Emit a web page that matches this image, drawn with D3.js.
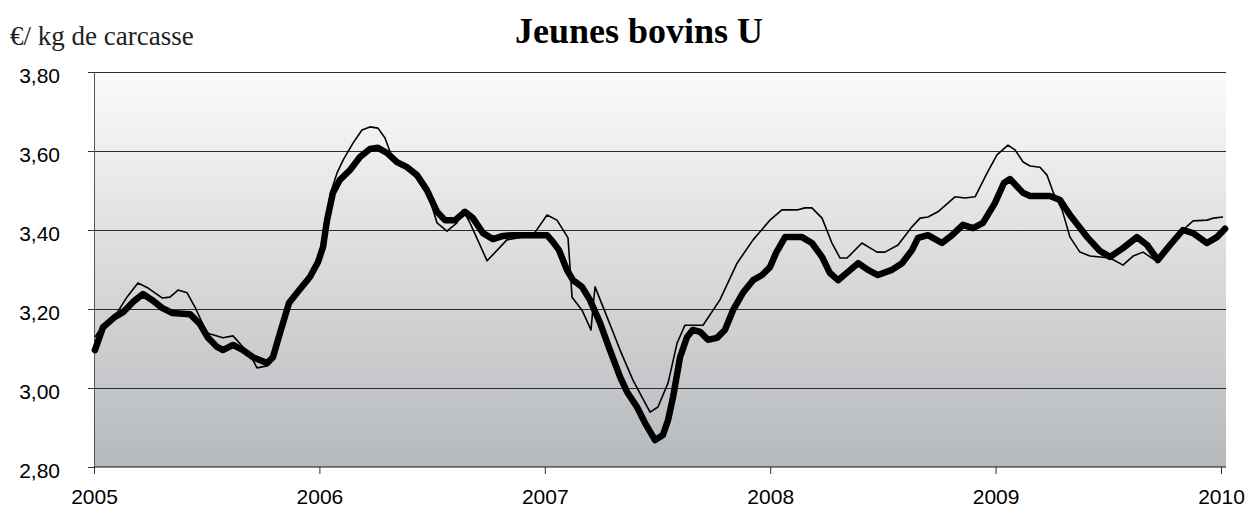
<!DOCTYPE html>
<html>
<head>
<meta charset="utf-8">
<script src="https://cdn.jsdelivr.net/npm/d3@7"></script>
<style>
  body { margin: 0; background: #fff; }
  .grid line { stroke: #2b2b2b; stroke-width: 1; shape-rendering: crispEdges; }
</style>
</head>
<body>
<div id="chart"></div>
<script>
// years (decimal) and prices in euro/kg
const thickYears = [2005.004, 2005.040, 2005.093, 2005.129, 2005.173, 2005.217, 2005.257, 2005.302, 2005.346, 2005.426,
  2005.470, 2005.506, 2005.546, 2005.572, 2005.617, 2005.661, 2005.705, 2005.768, 2005.794, 2005.825,
  2005.865, 2005.901, 2005.958, 2005.994, 2006.016, 2006.034, 2006.060, 2006.091, 2006.136, 2006.180,
  2006.224, 2006.260, 2006.300, 2006.344, 2006.389, 2006.433, 2006.477, 2006.522, 2006.557, 2006.602,
  2006.646, 2006.681, 2006.726, 2006.770, 2006.815, 2006.859, 2007.010, 2007.036, 2007.063, 2007.098,
  2007.125, 2007.165, 2007.200, 2007.245, 2007.289, 2007.334, 2007.365, 2007.409, 2007.445, 2007.489,
  2007.524, 2007.547, 2007.569, 2007.600, 2007.631, 2007.657, 2007.689, 2007.724, 2007.764, 2007.799,
  2007.835, 2007.879, 2007.924, 2007.964, 2007.999, 2008.026, 2008.066, 2008.141, 2008.185, 2008.230,
  2008.265, 2008.301, 2008.345, 2008.390, 2008.434, 2008.478, 2008.540, 2008.585, 2008.629, 2008.656,
  2008.700, 2008.762, 2008.807, 2008.855, 2008.900, 2008.944, 2008.997, 2009.037, 2009.064, 2009.122,
  2009.153, 2009.241, 2009.286, 2009.330, 2009.406, 2009.463, 2009.508, 2009.565, 2009.627, 2009.672,
  2009.720, 2009.774, 2009.831, 2009.876, 2009.938, 2009.982, 2010.018];
const thickValues = [3.096, 3.154, 3.180, 3.192, 3.218, 3.238, 3.223, 3.203, 3.190, 3.187,
  3.162, 3.127, 3.104, 3.096, 3.109, 3.096, 3.078, 3.063, 3.078, 3.139,
  3.215, 3.241, 3.281, 3.319, 3.357, 3.425, 3.494, 3.527, 3.552, 3.585,
  3.605, 3.608, 3.595, 3.572, 3.559, 3.539, 3.501, 3.446, 3.425, 3.425,
  3.446, 3.430, 3.392, 3.377, 3.385, 3.387, 3.387, 3.370, 3.349, 3.299,
  3.273, 3.256, 3.223, 3.165, 3.096, 3.028, 2.990, 2.952, 2.911, 2.868,
  2.881, 2.919, 2.977, 3.078, 3.129, 3.147, 3.142, 3.122, 3.127, 3.147,
  3.197, 3.241, 3.273, 3.286, 3.306, 3.342, 3.382, 3.382, 3.367, 3.332,
  3.291, 3.273, 3.294, 3.316, 3.299, 3.286, 3.299, 3.316, 3.349, 3.380,
  3.387, 3.367, 3.387, 3.413, 3.405, 3.418, 3.468, 3.519, 3.529, 3.494,
  3.486, 3.486, 3.476, 3.438, 3.382, 3.347, 3.332, 3.354, 3.382, 3.362,
  3.324, 3.362, 3.400, 3.392, 3.367, 3.382, 3.403];

const thinYears = [2005.004, 2005.040, 2005.102, 2005.146, 2005.195, 2005.240, 2005.302, 2005.337, 2005.373, 2005.413,
  2005.448, 2005.501, 2005.572, 2005.617, 2005.661, 2005.705, 2005.723, 2005.768, 2005.794, 2005.825,
  2005.865, 2005.901, 2005.958, 2005.994, 2006.016, 2006.047, 2006.078, 2006.105, 2006.149, 2006.189,
  2006.224, 2006.260, 2006.291, 2006.322, 2006.358, 2006.389, 2006.433, 2006.477, 2006.522, 2006.566,
  2006.610, 2006.637, 2006.668, 2006.744, 2006.832, 2006.948, 2007.010, 2007.054, 2007.103, 2007.121,
  2007.165, 2007.205, 2007.214, 2007.223, 2007.276, 2007.334, 2007.391, 2007.467, 2007.502, 2007.547,
  2007.587, 2007.622, 2007.702, 2007.777, 2007.853, 2007.924, 2007.999, 2008.052, 2008.123, 2008.154,
  2008.185, 2008.230, 2008.274, 2008.310, 2008.341, 2008.407, 2008.474, 2008.509, 2008.567, 2008.629,
  2008.665, 2008.700, 2008.744, 2008.820, 2008.864, 2008.909, 2008.962, 2009.006, 2009.055, 2009.086,
  2009.122, 2009.153, 2009.197, 2009.228, 2009.255, 2009.295, 2009.330, 2009.374, 2009.419, 2009.508,
  2009.565, 2009.610, 2009.654, 2009.720, 2009.774, 2009.831, 2009.876, 2009.938, 2009.964, 2010.009];
const thinValues = [3.129, 3.159, 3.190, 3.230, 3.266, 3.253, 3.228, 3.230, 3.248, 3.241,
  3.205, 3.139, 3.127, 3.132, 3.104, 3.071, 3.051, 3.056, 3.078, 3.139,
  3.215, 3.241, 3.281, 3.319, 3.357, 3.489, 3.544, 3.577, 3.620, 3.653,
  3.661, 3.658, 3.633, 3.585, 3.572, 3.559, 3.539, 3.501, 3.418, 3.397,
  3.418, 3.451, 3.418, 3.322, 3.375, 3.387, 3.438, 3.425, 3.380, 3.230,
  3.197, 3.147, 3.205, 3.256, 3.180, 3.096, 3.020, 2.939, 2.952, 3.013,
  3.114, 3.159, 3.159, 3.223, 3.316, 3.375, 3.425, 3.451, 3.451, 3.456,
  3.456, 3.430, 3.367, 3.329, 3.329, 3.367, 3.344, 3.344, 3.362, 3.408,
  3.430, 3.433, 3.446, 3.484, 3.481, 3.484, 3.544, 3.590, 3.615, 3.603,
  3.572, 3.562, 3.559, 3.539, 3.496, 3.451, 3.382, 3.344, 3.334, 3.329,
  3.311, 3.334, 3.344, 3.319, 3.357, 3.400, 3.423, 3.425, 3.430, 3.433];

const yTicks = [2.8, 3.0, 3.2, 3.4, 3.6, 3.8];
const xTicks = [2005, 2006, 2007, 2008, 2009, 2010];
const title = 'Jeunes bovins U';
const unitLabel = '€/ kg de carcasse';

const width = 1260, height = 517;
const margin = { left: 94, right: 34, top: 72, bottom: 50 };

const x = d3.scaleLinear().domain([2005, 2010]).range([margin.left, width - margin.right - 5]);
const y = d3.scaleLinear().domain([2.8, 3.8]).range([height - margin.bottom, margin.top]);
const plotRight = width - margin.right;

const svg = d3.select('#chart').append('svg')
  .attr('width', width)
  .attr('height', height);

// background gradient
const grad = svg.append('defs').append('linearGradient')
  .attr('id', 'bg')
  .attr('x1', 0).attr('y1', 0).attr('x2', 0).attr('y2', 1);
grad.append('stop').attr('offset', '0%').attr('stop-color', '#fbfbfb');
grad.append('stop').attr('offset', '100%').attr('stop-color', '#b6b9bc');

svg.append('rect')
  .attr('x', x(2005))
  .attr('y', y(3.8))
  .attr('width', plotRight - x(2005))
  .attr('height', y(2.8) - y(3.8))
  .attr('fill', 'url(#bg)');

// gridlines
svg.append('g').attr('class', 'grid')
  .selectAll('line')
  .data(yTicks.filter(d => d > 2.8))
  .enter().append('line')
  .attr('x1', x(2005))
  .attr('x2', plotRight)
  .attr('y1', d => y(d))
  .attr('y2', d => y(d));

// y axis
const yAxis = svg.append('g')
  .attr('transform', 'translate(' + x(2005) + ',0)')
  .call(d3.axisLeft(y).tickValues(yTicks).tickSize(6).tickFormat(d => d3.format('.2f')(d).replace('.', ',')));
yAxis.select('.domain').attr('stroke', '#555');
yAxis.selectAll('.tick line').attr('stroke', '#333');
yAxis.selectAll('.tick text')
  .attr('x', -34)
  .attr('dy', '0.48em')
  .attr('fill', '#000')
  .style('font-family', 'Arial, "Liberation Sans", sans-serif')
  .style('font-size', '21px');

// x axis
const xAxis = svg.append('g')
  .attr('transform', 'translate(0,' + y(2.8) + ')')
  .call(d3.axisBottom(x).tickValues(xTicks).tickSize(7).tickFormat(d3.format('d')));
xAxis.select('.domain').remove();
xAxis.append('line')
  .attr('x1', x(2005)).attr('x2', plotRight)
  .attr('stroke', '#111');
xAxis.selectAll('.tick line').attr('stroke', '#333');
xAxis.selectAll('.tick text')
  .attr('y', 22)
  .attr('dy', '0.71em')
  .style('font-family', 'Arial, "Liberation Sans", sans-serif')
  .style('font-size', '21px')
  .attr('fill', '#000');

// lines
const line = d3.line()
  .x(d => x(d[0]))
  .y(d => y(d[1]));

svg.append('path')
  .datum(d3.zip(thinYears, thinValues))
  .attr('fill', 'none')
  .attr('stroke', '#000')
  .attr('stroke-width', 1.6)
  .attr('stroke-linejoin', 'round')
  .attr('d', line);

svg.append('path')
  .datum(d3.zip(thickYears, thickValues))
  .attr('fill', 'none')
  .attr('stroke', '#000')
  .attr('stroke-width', 6.5)
  .attr('stroke-linejoin', 'round')
  .attr('stroke-linecap', 'round')
  .attr('d', line);

// titles
svg.append('text')
  .attr('x', 639)
  .attr('y', 43)
  .attr('text-anchor', 'middle')
  .style('font-family', '"Liberation Serif", "Times New Roman", serif')
  .style('font-weight', 'bold')
  .style('font-size', '36px')
  .text(title);

svg.append('text')
  .attr('x', 10)
  .attr('y', 45)
  .style('font-family', '"Liberation Serif", "Times New Roman", serif')
  .style('font-size', '27px')
  .attr('fill', '#222')
  .text(unitLabel);
</script>
</body>
</html>
